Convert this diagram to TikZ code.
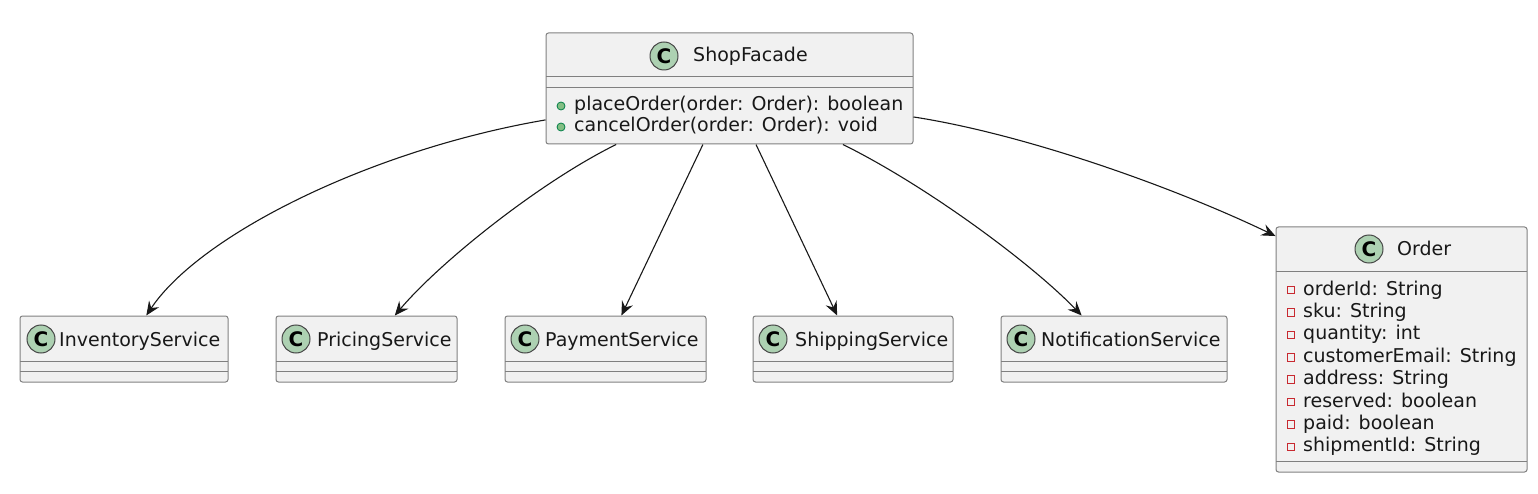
\documentclass[tikz,border=0pt]{standalone}
\usepackage{fontspec}
\setmainfont{DejaVu Sans}
\usetikzlibrary{arrows.meta}
\definecolor{boxfill}{HTML}{F1F1F1}
\definecolor{boxline}{HTML}{181818}
\definecolor{iconfill}{HTML}{ADD1B2}
\definecolor{pubfill}{HTML}{84BE84}
\definecolor{publine}{HTML}{038048}
\definecolor{privline}{HTML}{C82930}
\begin{document}
\begin{tikzpicture}[x=1pt, y=-1pt,
  cls/.style={draw=boxline!55, line width=1pt, fill=boxfill, rounded corners=2.5pt, inner sep=0pt},
  cicon/.style={circle, draw=boxline!80, line width=1pt, fill=iconfill, minimum size=28pt, inner sep=0pt, font=\fontsize{20}{20}\selectfont\bfseries},
  lbl/.style={anchor=base west, inner sep=0pt, font=\fontsize{19}{22}\selectfont, text=boxline},
  sep/.style={draw=boxline!55, line width=1pt},
  pub/.style={circle, draw=publine, line width=0.8pt, fill=pubfill, minimum size=8pt, inner sep=0pt},
  priv/.style={rectangle, draw=privline, line width=0.9pt, minimum size=7.5pt, inner sep=0pt},
  dep/.style={draw=boxline, line width=1.1pt, -{Stealth[length=14pt,width=12pt,inset=5pt]}}]
\useasboundingbox (0,0) rectangle (1538,494);
\node[cls, minimum width=367pt, minimum height=111pt] (shop) at (729.5,88.5){};
\node[cicon] (shopC) at (664,56){C};
\node[lbl] (shopT) at (693,62){ShopFacade};
\draw[sep](546,77) -- (913,77);
\draw[sep](546,88) -- (913,88);
\node[pub] (m1i) at (561,106){};
\node[lbl] (m1) at (574,111){placeOrder(order: Order): boolean};
\node[pub] (m2i) at (561,127){};
\node[lbl] (m2) at (574,132){cancelOrder(order: Order): void};
\node[cls, minimum width=208pt, minimum height=66pt] (inv) at (124,349){};
\node[cicon] (invC) at (41,339){C};
\node[lbl] (invT) at (59,346.5){InventoryService};
\draw[sep](20,361) -- (228,361);
\draw[sep](20,371) -- (228,371);
\node[cls, minimum width=181pt, minimum height=66pt] (pri) at (366.5,349){};
\node[cicon] (priC) at (296,339){C};
\node[lbl] (priT) at (317,346.5){PricingService};
\draw[sep](276,361) -- (457,361);
\draw[sep](276,371) -- (457,371);
\node[cls, minimum width=201pt, minimum height=66pt] (pay) at (605.5,349){};
\node[cicon] (payC) at (525,339){C};
\node[lbl] (payT) at (545,346.5){PaymentService};
\draw[sep](505,361) -- (706,361);
\draw[sep](505,371) -- (706,371);
\node[cls, minimum width=200pt, minimum height=66pt] (shp) at (853,349){};
\node[cicon] (shpC) at (773,339){C};
\node[lbl] (shpT) at (795,346.5){ShippingService};
\draw[sep](753,361) -- (953,361);
\draw[sep](753,371) -- (953,371);
\node[cls, minimum width=226pt, minimum height=66pt] (ntf) at (1114,349){};
\node[cicon] (ntfC) at (1021,339){C};
\node[lbl] (ntfT) at (1041,346.5){NotificationService};
\draw[sep](1001,361) -- (1227,361);
\draw[sep](1001,371) -- (1227,371);
\node[cls, minimum width=251pt, minimum height=245pt] (order) at (1401.5,349.5){};
\node[cicon] (orderC) at (1369,249){C};
\node[lbl] (orderT) at (1397,255){Order};
\draw[sep](1276,271) -- (1527,271);
\draw[sep](1276,461) -- (1527,461);
\node[priv] (a1i) at (1291,290){};
\node[lbl] (a1) at (1303,295){orderId: String};
\node[priv] (a2i) at (1291,312.4){};
\node[lbl] (a2) at (1303,317.4){sku: String};
\node[priv] (a3i) at (1291,334.8){};
\node[lbl] (a3) at (1303,339.8){quantity: int};
\node[priv] (a4i) at (1291,357.2){};
\node[lbl] (a4) at (1303,362.2){customerEmail: String};
\node[priv] (a5i) at (1291,379.6){};
\node[lbl] (a5) at (1303,384.6){address: String};
\node[priv] (a6i) at (1291,402){};
\node[lbl] (a6) at (1303,407){reserved: boolean};
\node[priv] (a7i) at (1291,424.4){};
\node[lbl] (a7) at (1303,429.4){paid: boolean};
\node[priv] (a8i) at (1291,446.8){};
\node[lbl] (a8) at (1303,451.8){shipmentId: String};
\draw[dep](shop) .. controls (370,150) and (200,235) .. (inv);
\draw[dep](shop) .. controls (540,182) and (440,262) .. (pri);
\draw[dep](shop) -- (pay);
\draw[dep](shop) -- (shp);
\draw[dep](shop) .. controls (925,185) and (1030,262) .. (ntf);
\draw[dep](shop) .. controls (1030,135) and (1180,190) .. (order.138);
\end{tikzpicture}
\end{document}
